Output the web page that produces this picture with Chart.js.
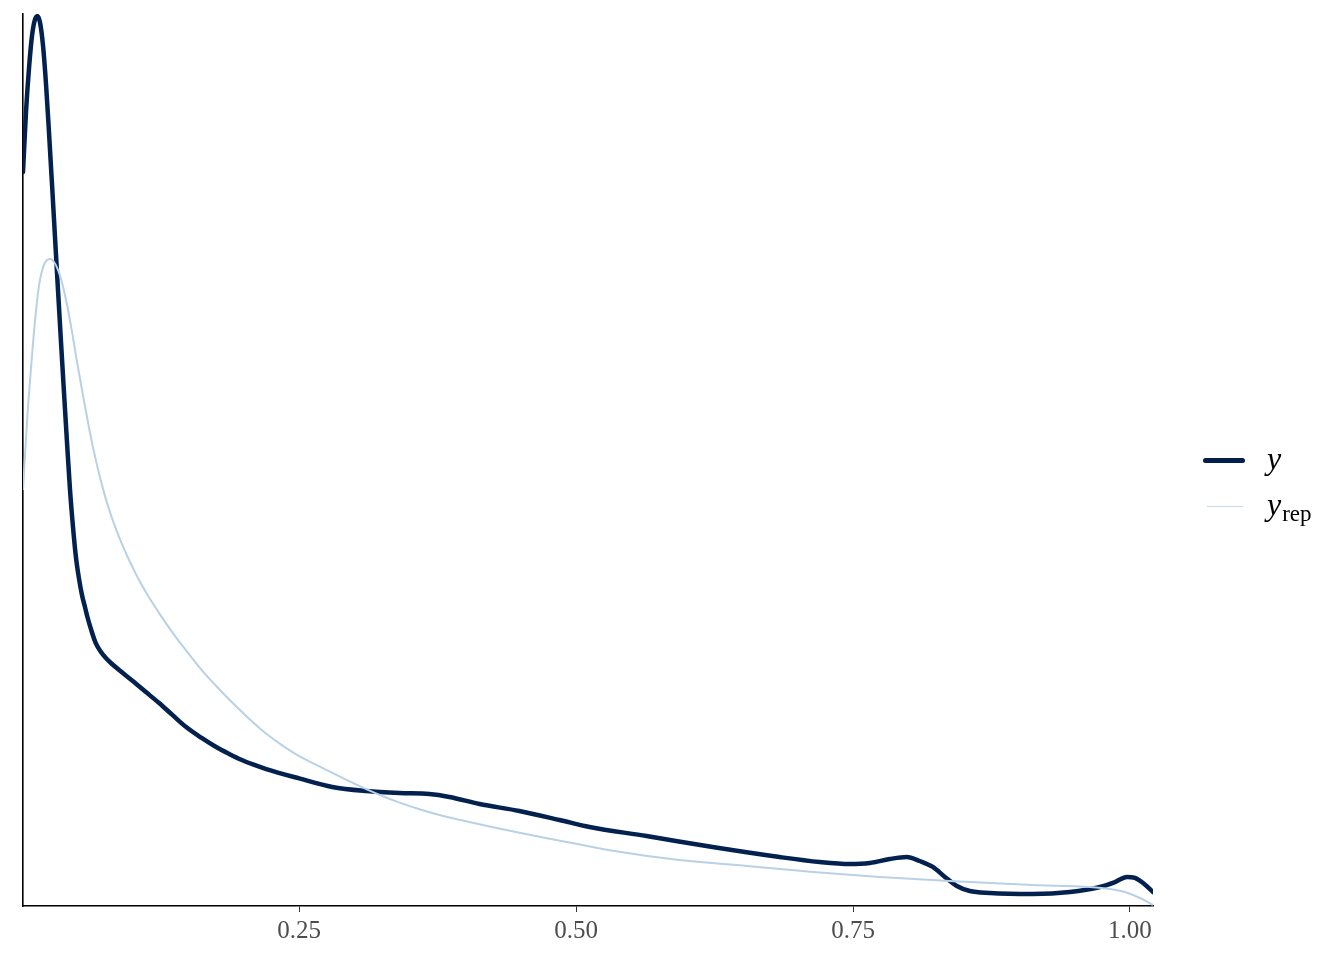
<!DOCTYPE html>
<html>
<head>
<meta charset="utf-8">
<script src="https://cdn.jsdelivr.net/npm/chart.js@4/dist/chart.umd.min.js"></script>
<style>
  body { margin: 0; background: #fff; }
  #wrap { position: relative; width: 1344px; height: 960px; }
  .key { position: absolute; height: 0; }
  .lbl { position: absolute; font-family: "Liberation Serif", "DejaVu Serif", serif; color: #000; white-space: nowrap; line-height: 1; }
  .lbl i { font-size: 32px; }
  .lbl sub { font-size: 23px; vertical-align: baseline; position: relative; top: 6px; margin-left: 1px; }
</style>
</head>
<body>
<div id="wrap">
  <canvas id="chart" width="1344" height="960"></canvas>
  <div class="key" style="left:1203px; top:457.5px; width:42px; border-top:5px solid #011f4b; border-radius:3px;"></div>
  <div class="lbl" style="left:1267px; top:442px;"><i>y</i></div>
  <div class="key" style="left:1207px; top:505.5px; width:36px; border-top:1.5px solid #c6dbea;"></div>
  <div class="lbl" style="left:1267px; top:488px;"><i>y</i><sub>rep</sub></div>
</div>
<script>
// observed density (y)
const yX = [0.0006, 0.0033, 0.0061, 0.0088, 0.0115, 0.0137, 0.0160, 0.0187, 0.0214, 0.0241, 0.0268, 0.0295,
  0.0322, 0.0349, 0.0376, 0.0403, 0.0430, 0.0457, 0.0484, 0.0511, 0.0538, 0.0565, 0.0587, 0.0625, 0.0663,
  0.0710, 0.0754, 0.0810, 0.0874, 0.0991, 0.1110, 0.1235, 0.1357, 0.1479, 0.1615, 0.1750, 0.1863, 0.1976,
  0.2089, 0.2202, 0.2500, 0.2798, 0.3106, 0.3404, 0.3675, 0.3856, 0.4127, 0.4488, 0.4850, 0.5121, 0.5636,
  0.6232, 0.6837, 0.7199, 0.7470, 0.7651, 0.7831, 0.7985, 0.8102, 0.8220, 0.8329, 0.8437, 0.8554, 0.8735,
  0.9124, 0.9458, 0.9729, 0.9865, 0.9973, 1.0045, 1.0118, 1.0208];
const yDens = [6.673, 7.218, 7.627, 7.918, 8.064, 8.091, 8.030, 7.820, 7.470, 7.030, 6.560, 6.080,
  5.600, 5.130, 4.670, 4.220, 3.790, 3.450, 3.170, 2.980, 2.830, 2.720, 2.630, 2.500, 2.390,
  2.310, 2.255, 2.200, 2.145, 2.050, 1.950, 1.845, 1.735, 1.627, 1.530, 1.445, 1.385, 1.330,
  1.285, 1.245, 1.160, 1.082, 1.045, 1.027, 1.018, 0.991, 0.927, 0.864, 0.782, 0.718, 0.636,
  0.536, 0.445, 0.400, 0.382, 0.391, 0.427, 0.445, 0.409, 0.355, 0.264, 0.182, 0.136, 0.118,
  0.109, 0.127, 0.173, 0.218, 0.264, 0.255, 0.209, 0.127];

// replicated density (y_rep)
const repX = [0.0006, 0.0045, 0.0090, 0.0115, 0.0151, 0.0187, 0.0223, 0.0257, 0.0286, 0.0323, 0.0359,
  0.0404, 0.0449, 0.0494, 0.055, 0.060, 0.065, 0.070, 0.075, 0.080, 0.085, 0.090, 0.095, 0.100, 0.105,
  0.110, 0.116, 0.125, 0.135, 0.145, 0.155, 0.165, 0.175, 0.185, 0.195, 0.205, 0.215, 0.225, 0.235,
  0.245, 0.255, 0.265, 0.280, 0.295, 0.310, 0.325, 0.340, 0.360, 0.380, 0.400, 0.425, 0.450, 0.475,
  0.500, 0.533, 0.593, 0.654, 0.714, 0.774, 0.837, 0.912, 0.964, 0.982, 0.9955, 1.009, 1.0208];
const repDens = [3.782, 4.445, 5.036, 5.327, 5.645, 5.809, 5.873, 5.882, 5.855, 5.782, 5.664,
  5.464, 5.218, 4.945, 4.630, 4.360, 4.115, 3.900, 3.715, 3.555, 3.415, 3.290, 3.175, 3.070, 2.970,
  2.880, 2.780, 2.640, 2.495, 2.360, 2.232, 2.110, 2.000, 1.895, 1.795, 1.700, 1.610, 1.530, 1.458,
  1.392, 1.335, 1.285, 1.210, 1.135, 1.065, 1.000, 0.942, 0.875, 0.818, 0.772, 0.716, 0.664, 0.614,
  0.566, 0.502, 0.418, 0.364, 0.309, 0.264, 0.227, 0.191, 0.173, 0.155, 0.127, 0.073, 0.009];

const xTicks = [0.25, 0.5, 0.75, 1.0];
const xTickLabels = ["0.25", "0.50", "0.75", "1.00"];

const toPts = (xs, ys) => xs.map((x, i) => ({ x, y: ys[i] }));

new Chart(document.getElementById("chart"), {
  type: "line",
  data: {
    datasets: [
      { label: "y_rep", data: toPts(repX, repDens), borderColor: "#b9d1e4", borderWidth: 2,
        pointRadius: 0, cubicInterpolationMode: "monotone", fill: false },
      { label: "y", data: toPts(yX, yDens), borderColor: "#03214f", borderWidth: 4.5,
        pointRadius: 0, cubicInterpolationMode: "monotone", fill: false, borderCapStyle: "round" },
    ],
  },
  options: {
    responsive: false,
    animation: false,
    layout: { padding: { left: 23, top: 14, right: 191, bottom: 0 } },
    plugins: { legend: { display: false }, tooltip: { enabled: false } },
    scales: {
      x: {
        type: "linear",
        min: 0.0006,
        max: 1.0208,
        afterBuildTicks: (s) => { s.ticks = xTicks.map((v) => ({ value: v })); },
        afterFit: (s) => { s.height = 54; },
        grid: { drawOnChartArea: false, drawTicks: true, tickLength: 6, tickColor: "#333", color: "#333" },
        border: { display: true, color: "#000", width: 1.6 },
        ticks: {
          padding: 4,
          color: "#4d4d4d",
          font: { family: "Liberation Serif", size: 25 },
          maxRotation: 0,
          autoSkip: false,
          callback: (v) => xTickLabels[xTicks.indexOf(v)] ?? "",
        },
      },
      y: {
        min: 0,
        max: 8.11,
        afterFit: (s) => { s.width = 0; },
        grid: { display: false },
        border: { display: true, color: "#000", width: 1.6 },
        ticks: { display: false },
      },
    },
  },
});
</script>
</body>
</html>
